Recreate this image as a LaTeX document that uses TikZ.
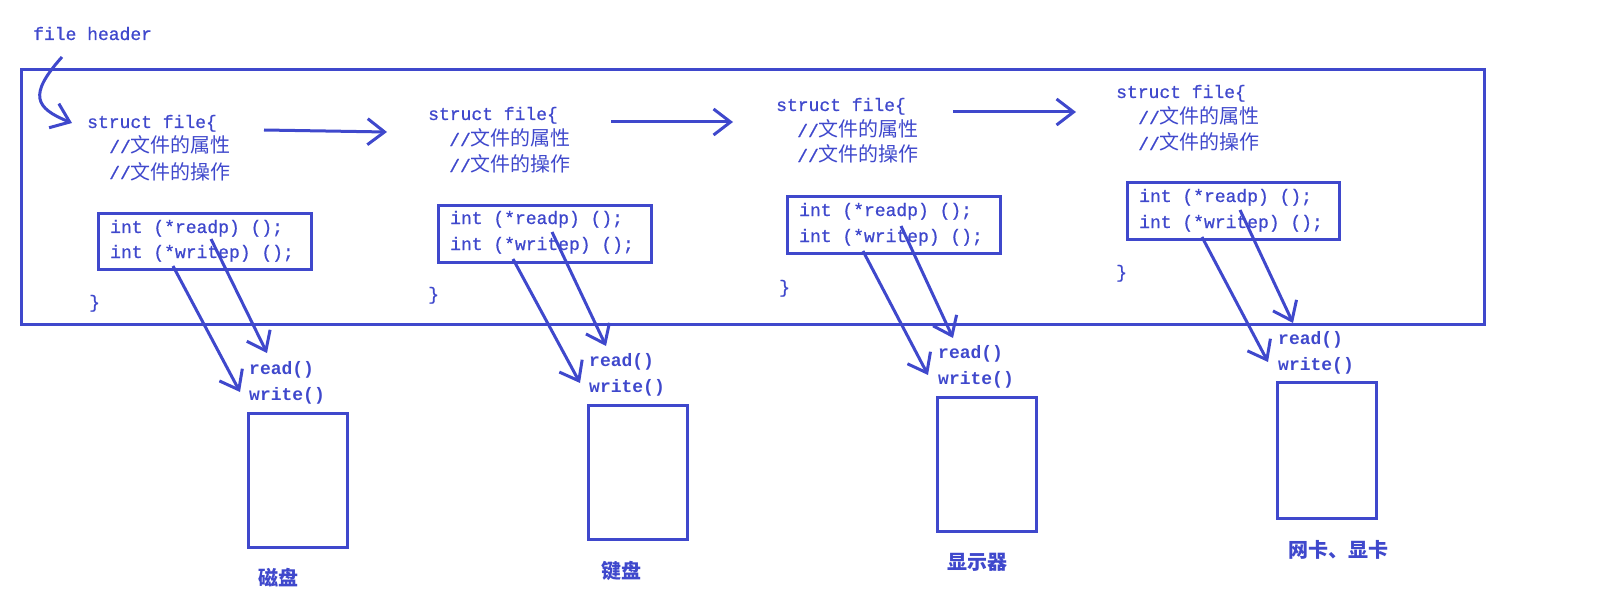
\documentclass[tikz,border=0pt]{standalone}
\usepackage{fontspec}
\newfontfamily\code[FakeBold=0.8]{Liberation Mono}
\newfontfamily\codeb{Liberation Mono Bold}
\newfontfamily\cjk{Noto Sans CJK SC}
\usetikzlibrary{arrows.meta}
\definecolor{pb}{HTML}{3F48CC}
\tikzset{
  ln/.style={draw=pb, line width=3pt},
  arr/.style={ln, -{Straight Barb[length=17pt,width=26pt,line width=3pt]}},
  txt/.style={text=pb, inner sep=0pt, anchor=base west, font=\code\fontsize{18}{22}\selectfont},
  btxt/.style={txt, font=\codeb\fontsize{18}{22}\selectfont},
  lab/.style={text=pb, inner sep=0pt, anchor=center, font=\cjk\bfseries\fontsize{20}{24}\selectfont},
  ibox/.style={ln},
  dev/.style={ln}
}
\newcommand{\cj}[1]{{\cjk\fontsize{20}{24}\selectfont #1}}
\begin{document}
\begin{tikzpicture}[x=1pt,y=-1pt]
\useasboundingbox (0,0) rectangle (1600,604);
% outer frame
\draw[ln] (21,70) rectangle (1484,324);
\node[txt] (fh) at (33,40) {file header};
\coordinate (fhs) at (62,57);
\coordinate (fht) at (72,123);
\draw[arr] (fhs) .. controls (28,95) and (35,108) .. (fht);

% ---------- struct 1
\node[txt] (s1) at (87,128) {struct file\{};
\node[txt] (s1a) at (109,153) {//\cj{文件的属性}};
\node[txt] (s1b) at (109,179) {//\cj{文件的操作}};
\draw[ibox] (98,213) rectangle (311,269);
\node[txt] (r1) at (110,233) {int (*readp) ();};
\node[txt] (w1) at (110,258) {int (*writep) ();};
\node[txt] (e1) at (89,308) {\}};
% ---------- struct 2
\node[txt] (s2) at (428,120) {struct file\{};
\node[txt] (s2a) at (449,146) {//\cj{文件的属性}};
\node[txt] (s2b) at (449,172) {//\cj{文件的操作}};
\draw[ibox] (438,206) rectangle (651,262);
\node[txt] (r2) at (450,224) {int (*readp) ();};
\node[txt] (w2) at (450,250) {int (*writep) ();};
\node[txt] (e2) at (428,300) {\}};
% ---------- struct 3
\node[txt] (s3) at (776,111) {struct file\{};
\node[txt] (s3a) at (797,137) {//\cj{文件的属性}};
\node[txt] (s3b) at (797,162) {//\cj{文件的操作}};
\draw[ibox] (787,197) rectangle (1000,253);
\node[txt] (r3) at (799,216) {int (*readp) ();};
\node[txt] (w3) at (799,242) {int (*writep) ();};
\node[txt] (e3) at (779,293) {\}};
% ---------- struct 4
\node[txt] (s4) at (1116,98) {struct file\{};
\node[txt] (s4a) at (1138,124) {//\cj{文件的属性}};
\node[txt] (s4b) at (1138,150) {//\cj{文件的操作}};
\draw[ibox] (1127,183) rectangle (1339,239);
\node[txt] (r4) at (1139,202) {int (*readp) ();};
\node[txt] (w4) at (1139,228) {int (*writep) ();};
\node[txt] (e4) at (1116,278) {\}};

% horizontal arrows
\coordinate (h1s) at (264,130); \coordinate (h1t) at (387,132);
\coordinate (h2s) at (611,122); \coordinate (h2t) at (733,122);
\coordinate (h3s) at (953,112); \coordinate (h3t) at (1076,112);
\draw[arr] (h1s) -- (h1t);
\draw[arr] (h2s) -- (h2t);
\draw[arr] (h3s) -- (h3t);

% devices
\node[btxt] (dr1) at (249,374) {read()};
\node[btxt] (dw1) at (249,400) {write()};
\draw[dev] (248,413) rectangle (347,547);
\node[lab] (l1) at (278,578) {磁盘};

\node[btxt] (dr2) at (589,366) {read()};
\node[btxt] (dw2) at (589,392) {write()};
\draw[dev] (588,405) rectangle (687,539);
\node[lab] (l2) at (621,571) {键盘};

\node[btxt] (dr3) at (938,358) {read()};
\node[btxt] (dw3) at (938,384) {write()};
\draw[dev] (937,397) rectangle (1036,531);
\node[lab] (l3) at (977,562) {显示器};

\node[btxt] (dr4) at (1278,344) {read()};
\node[btxt] (dw4) at (1278,370) {write()};
\draw[dev] (1277,382) rectangle (1376,518);
\node[lab] (l4) at (1338,550) {网卡、显卡};

% diagonal arrows
\coordinate (a1s) at (173,266); \coordinate (a1t) at (240,392);
\coordinate (b1s) at (211,239); \coordinate (b1t) at (267,353);
\coordinate (a2s) at (513,259); \coordinate (a2t) at (580,383);
\coordinate (b2s) at (552,232); \coordinate (b2t) at (606,346);
\coordinate (a3s) at (863,251); \coordinate (a3t) at (928,375);
\coordinate (b3s) at (901,226); \coordinate (b3t) at (953,338);
\coordinate (a4s) at (1202,237); \coordinate (a4t) at (1268,362);
\coordinate (b4s) at (1240,210); \coordinate (b4t) at (1293,323);
\foreach \p in {1,2,3,4}{
  \draw[arr] (a\p s) -- (a\p t);
  \draw[arr] (b\p s) -- (b\p t);
}
\end{tikzpicture}
\end{document}
